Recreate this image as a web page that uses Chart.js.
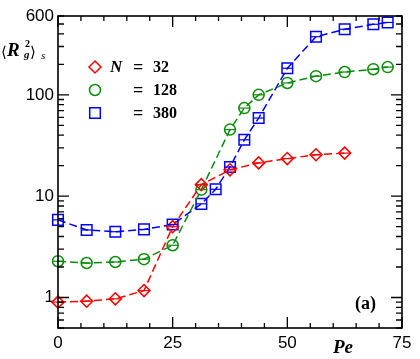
<!DOCTYPE html>
<html>
<head>
<meta charset="utf-8">
<script src="https://cdn.jsdelivr.net/npm/chart.js@4/dist/chart.umd.min.js"></script>
<style>
html,body{margin:0;padding:0;background:#fff;}
#wrap{width:420px;height:359px;position:relative;}
</style>
</head>
<body>
<div id="wrap"><canvas id="c" width="420" height="359"></canvas></div>
<script>
// Data
const pe32 = [0, 6.25, 12.5, 18.75, 25, 31.25, 37.5, 43.75, 50, 56.25, 62.5];
const rg32 = [0.90, 0.92, 0.97, 1.17, 5.0, 13.0, 18.2, 21.3, 23.5, 25.6, 26.6];

const pe128 = [0, 6.25, 12.5, 18.75, 25, 31.25, 37.5, 40.625, 43.75, 50, 56.25, 62.5, 68.75, 71.875];
const rg128 = [2.28, 2.19, 2.24, 2.39, 3.28, 11.6, 45.4, 74, 100, 131, 153, 168, 179, 188];

const pe380 = [0, 6.25, 12.5, 18.75, 25, 31.25, 34.375, 37.5, 40.625, 43.75, 50, 56.25, 62.5, 68.75, 71.875];
const rg380 = [5.84, 4.64, 4.46, 4.70, 5.25, 8.4, 11.7, 19.4, 36, 59, 183, 375, 444, 497, 518];

const xTickLabels = [0, 25, 50, 75];
const yTickLabels = [1, 10, 100, 600];
const legendValues = ['32', '128', '380'];

const RED = '#ff0000', GREEN = '#0a8c0a', BLUE = '#0000ff';

function pts(xs, ys){ return xs.map((x,i)=>({x:x, y:ys[i]})); }

const series = [
  {data: pts(pe32, rg32), color: RED, style: 'rectRot', r: 6},
  {data: pts(pe128, rg128), color: GREEN, style: 'circle', r: 5.5},
  {data: pts(pe380, rg380), color: BLUE, style: 'rect', r: 7.5}
];

function drawMarker(ctx, style, x, y, r, color){
  ctx.save();
  ctx.strokeStyle = color; ctx.lineWidth = 1.5; ctx.setLineDash([]);
  ctx.beginPath();
  if (style === 'circle') ctx.arc(x, y, r, 0, Math.PI*2);
  else if (style === 'rect') { const s = r*Math.SQRT1_2; ctx.rect(x-s, y-s, 2*s, 2*s); }
  else { ctx.moveTo(x-r, y); ctx.lineTo(x, y-r); ctx.lineTo(x+r, y); ctx.lineTo(x, y+r); ctx.closePath(); }
  ctx.stroke();
  ctx.restore();
}

const framePlugin = {
  id: 'frame',
  afterDatasetsDraw(chart){
    const ctx = chart.ctx;
    chart.data.datasets.forEach((ds, di)=>{
      const meta = chart.getDatasetMeta(di);
      const r = series[di].r * (series[di].style==='rect' ? Math.SQRT1_2 : 1);
      ctx.save();
      ctx.strokeStyle = ds.borderColor; ctx.lineWidth = 1.2;
      meta.data.forEach(p=>{
        ctx.beginPath(); ctx.moveTo(p.x - r, p.y); ctx.lineTo(p.x + r, p.y); ctx.stroke();
      });
      ctx.restore();
    });
  },
  afterDraw(chart){
    const ctx = chart.ctx;
    const a = chart.chartArea;
    const xs = chart.scales.x, ys = chart.scales.y;
    ctx.save();
    ctx.strokeStyle = '#000'; ctx.lineWidth = 1.6; ctx.setLineDash([]);
    ctx.strokeRect(a.left, a.top, a.right - a.left, a.bottom - a.top);
    ctx.lineWidth = 1.3;
    for (let v = 0; v <= 75; v += 5) {
      const px = xs.getPixelForValue(v);
      const len = (v % 25 === 0) ? 11 : 5;
      ctx.beginPath();
      ctx.moveTo(px, a.bottom); ctx.lineTo(px, a.bottom - len);
      ctx.moveTo(px, a.top); ctx.lineTo(px, a.top + len);
      ctx.stroke();
    }
    const decades = [0.1, 1, 10, 100];
    decades.forEach(d=>{
      for (let m = 1; m <= 9; m++) {
        const v = m*d;
        if (v < ys.min - 1e-9 || v > ys.max + 1e-9) continue;
        const py = ys.getPixelForValue(v);
        const len = (m === 1) ? 11 : 6;
        ctx.beginPath();
        ctx.moveTo(a.left, py); ctx.lineTo(a.left + len, py);
        ctx.moveTo(a.right, py); ctx.lineTo(a.right - len, py);
        ctx.stroke();
      }
    });
    ctx.restore();

    // y axis title <R_g^2>_s
    ctx.save();
    ctx.fillStyle = '#000';
    ctx.textBaseline = 'alphabetic';
    ctx.font = '15px "DejaVu Serif"';
    ctx.fillText('\u27E8', 1, 57);
    ctx.font = 'bold italic 19px "Liberation Serif"';
    ctx.fillText('R', 7, 56);
    ctx.font = 'bold 10px "Liberation Serif"';
    ctx.fillText('2', 25, 47);
    ctx.font = 'bold italic 11px "Liberation Serif"';
    ctx.fillText('g', 24, 58);
    ctx.font = '15px "DejaVu Serif"';
    ctx.fillText('\u27E9', 30, 57);
    ctx.font = 'italic 11px "Liberation Serif"';
    ctx.fillText('s', 41, 59);

    // legend
    const lx = 95, ly = [67, 90, 113];
    series.forEach((s, i)=>{
      drawMarker(ctx, s.style, lx, ly[i], s.r, s.color);
    });
    ctx.textBaseline = 'middle';
    ctx.font = 'bold italic 17px "Liberation Serif"';
    ctx.fillText('N', 110, ly[0] + 1);
    legendValues.forEach((v, i)=>{
      ctx.font = 'bold 18px "Liberation Serif"';
      ctx.fillText('=', 133, ly[i] + 1);
      ctx.font = 'bold 16px "Liberation Serif"';
      ctx.fillText(v, 153, ly[i] + 1);
    });

    // Pe label
    ctx.font = 'bold italic 19px "Liberation Serif"';
    ctx.textBaseline = 'alphabetic';
    ctx.fillText('Pe', 333, 353);
    // (a)
    ctx.font = 'bold 18px "Liberation Serif"';
    ctx.fillText('(a)', 355, 309);
    ctx.restore();
  }
};

const chart = new Chart(document.getElementById('c'), {
  type: 'line',
  data: {
    datasets: series.map(s=>({
      data: s.data,
      borderColor: s.color,
      backgroundColor: 'transparent',
      borderWidth: 1.5,
      borderDash: [8, 4],
      pointStyle: s.style,
      pointRadius: s.r,
      pointBorderWidth: 1.5,
      pointBorderColor: s.color,
      pointBackgroundColor: 'transparent',
      tension: 0,
      fill: false,
      clip: false
    }))
  },
  options: {
    responsive: false,
    animation: false,
    devicePixelRatio: 1,
    layout: {padding: {top: 16, right: 18, left: 0, bottom: 0}},
    plugins: {legend: {display: false}, tooltip: {enabled: false}},
    scales: {
      x: {
        type: 'linear', min: 0, max: 75,
        afterBuildTicks(scale){ scale.ticks = xTickLabels.map(v=>({value: v})); },
        afterFit(scale){ scale.height = 31; },
        grid: {display: false, drawTicks: false},
        border: {display: false},
        ticks: {color: '#000', font: {family: '"Liberation Sans"', size: 17}, padding: 5, maxRotation: 0, autoSkip: false}
      },
      y: {
        type: 'logarithmic', min: 0.5, max: 600,
        afterBuildTicks(scale){ scale.ticks = yTickLabels.map(v=>({value: v})); },
        afterFit(scale){ scale.width = 58; },
        grid: {display: false, drawTicks: false},
        border: {display: false},
        ticks: {color: '#000', font: {family: '"Liberation Sans"', size: 17}, padding: 4, autoSkip: false,
          callback(v){ return String(v); }}
      }
    }
  },
  plugins: [framePlugin]
});
</script>
</body>
</html>
